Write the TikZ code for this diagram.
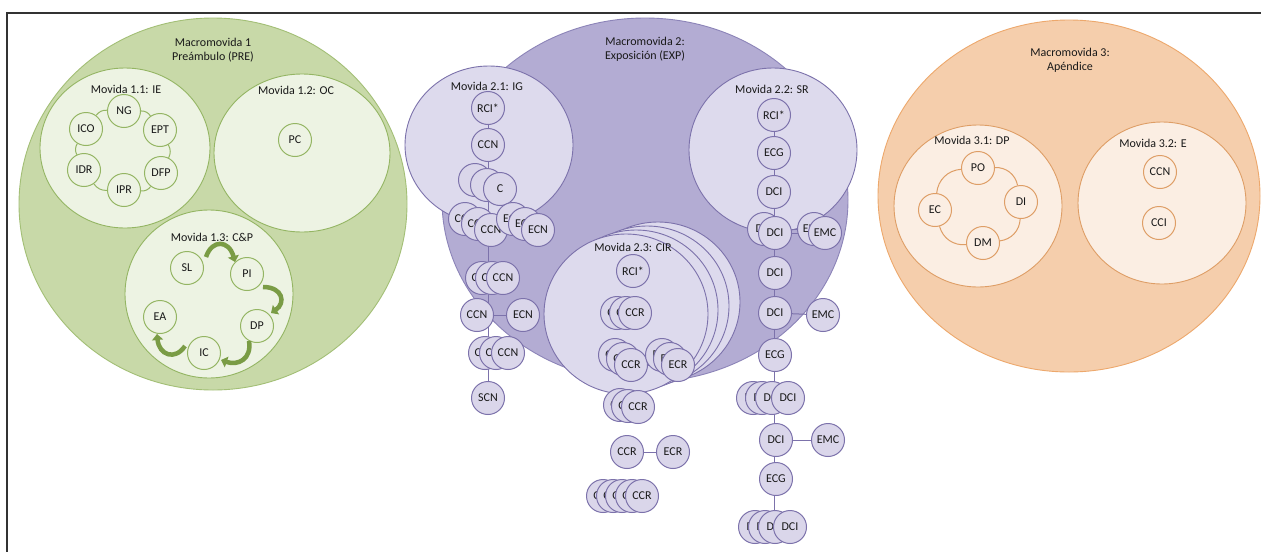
\documentclass[tikz,border=0pt]{standalone}
\usepackage{fontspec}
\setmainfont{Carlito}
\usetikzlibrary{arrows.meta}
\pgfdeclarelayer{bg}
\pgfdeclarelayer{lines}
\pgfsetlayers{bg,lines,main}
\definecolor{gOut}{HTML}{C8D9A8}
\definecolor{gOutB}{HTML}{A3BF76}
\definecolor{gIn}{HTML}{EDF3E3}
\definecolor{gInB}{HTML}{94B563}
\definecolor{gArr}{HTML}{7A9C45}
\definecolor{pOut}{HTML}{B3ACD3}
\definecolor{pOutB}{HTML}{8C84B8}
\definecolor{pIn}{HTML}{DDDAED}
\definecolor{pInB}{HTML}{7C72AB}
\definecolor{pNF}{HTML}{DAD6EA}
\definecolor{oOut}{HTML}{F5CEAC}
\definecolor{oOutB}{HTML}{EDA86C}
\definecolor{oIn}{HTML}{FBEEE3}
\definecolor{oInB}{HTML}{DE9E66}
\begin{document}
\begin{tikzpicture}[x=1pt,y=-1pt,
  every node/.style={font=\fontsize{12}{14}\selectfont, text=black!90},
  lbl/.style={align=center, inner sep=0pt},
  gbig/.style={fill=gOut, draw=gOutB, line width=0.9pt},
  gmid/.style={fill=gIn, draw=gInB, line width=0.9pt},
  gnode/.style={circle, fill=gIn, draw=gInB, line width=1pt, minimum size=33pt, inner sep=0pt},
  gline/.style={draw=gInB, line width=1pt},
  garrow/.style={draw=gArr, line width=4.5pt, -{Triangle[length=6pt,width=11pt]}},
  pbig/.style={fill=pOut, draw=pOutB, line width=0.9pt},
  pmid/.style={fill=pIn, draw=pInB, line width=0.9pt},
  pnode/.style={circle, fill=pNF, draw=pInB, line width=1pt, minimum size=33pt, inner sep=0pt},
  pline/.style={draw=pInB, line width=1pt},
  obig/.style={fill=oOut, draw=oOutB, line width=0.9pt},
  omid/.style={fill=oIn, draw=oInB, line width=0.9pt},
  onode/.style={circle, fill=oIn, draw=oInB, line width=1pt, minimum size=33pt, inner sep=0pt},
  oline/.style={draw=oInB, line width=1pt}
]
\useasboundingbox (0,0) rectangle (1261,552);

% ---------- background shapes ----------
\begin{pgfonlayer}{bg}
  \fill[white] (0,0) rectangle (1261,552);
  % green
  \draw[gbig] (213,204) ellipse [x radius=194pt, y radius=186pt];
  \draw[gmid] (125,148) ellipse [x radius=85pt, y radius=80pt];
  \draw[gmid] (302,153) ellipse [x radius=88pt, y radius=79pt];
  \draw[gmid] (209,294) ellipse [x radius=84pt, y radius=84pt];
  % purple
  \draw[pbig] (645,200) ellipse [x radius=203pt, y radius=182pt];
  \draw[pmid] (489,145) ellipse [x radius=84pt, y radius=79pt];
  \draw[pmid] (773,150) ellipse [x radius=84pt, y radius=82pt];
  \draw[pmid] (658,302) ellipse [x radius=82pt, y radius=80pt];
  \draw[pmid] (647,306) ellipse [x radius=82pt, y radius=80pt];
  \draw[pmid] (636,310) ellipse [x radius=82pt, y radius=80pt];
  \draw[pmid] (626,314) ellipse [x radius=82pt, y radius=80pt];
  % orange
  \draw[obig] (1069,196) ellipse [x radius=191pt, y radius=176pt];
  \draw[omid] (978,206) ellipse [x radius=84pt, y radius=81pt];
  \draw[omid] (1162,203) ellipse [x radius=84pt, y radius=81pt];
\end{pgfonlayer}

% frame
\draw[line width=2pt, draw=black!80] (1261,13) -- (7,13) -- (7,552);

% ---------- labels ----------
\node[lbl] (t1) at (213,50) {Macromovida 1\\Preámbulo (PRE)};
\node[lbl] (t11) at (126,89) {Movida 1.1: IE};
\node[lbl] (t12) at (296,90) {Movida 1.2: OC};
\node[lbl] (t13) at (212,237) {Movida 1.3: C\&P};
\node[lbl] (t2) at (645,49) {Macromovida 2:\\Exposición (EXP)};
\node[lbl] (t21) at (487,86) {Movida 2.1: IG};
\node[lbl] (t22) at (772,89) {Movida 2.2: SR};
\node[lbl] (t23) at (633,247) {Movida 2.3: CIR};
\node[lbl] (t3) at (1070,60) {Macromovida 3:\\Apéndice};
\node[lbl] (t31) at (972,140) {Movida 3.1: DP};
\node[lbl] (t32) at (1153,143) {Movida 3.2: E};

% ---------- Movida 1.1 ----------
\node[gnode] (NG) at (124,111) {NG};
\node[gnode] (EPT) at (160,130) {EPT};
\node[gnode] (DFP) at (161,173) {DFP};
\node[gnode] (IPR) at (124,190) {IPR};
\node[gnode] (IDR) at (84,170) {IDR};
\node[gnode] (ICO) at (86,129) {ICO};
\begin{pgfonlayer}{lines}
  \draw[gline] (NG) to[bend left=28] (EPT);
  \draw[gline] (EPT) to[bend left=28] (DFP);
  \draw[gline] (DFP) to[bend left=28] (IPR);
  \draw[gline] (IPR) to[bend left=28] (IDR);
  \draw[gline] (IDR) to[bend left=28] (ICO);
  \draw[gline] (ICO) to[bend left=28] (NG);
\end{pgfonlayer}

% ---------- Movida 1.2 ----------
\node[gnode] (PC) at (295,140) {PC};

% ---------- Movida 1.3 ----------
\node[gnode] (SL) at (187,268) {SL};
\node[gnode] (PI) at (247,274) {PI};
\node[gnode] (DP) at (257,326) {DP};
\node[gnode] (IC) at (204,353) {IC};
\node[gnode] (EA) at (160,317) {EA};
\coordinate (a1s) at (206,257); \coordinate (a1e) at (235,262);
\coordinate (a2s) at (263,287); \coordinate (a2e) at (271,313);
\coordinate (a3s) at (249,341); \coordinate (a3e) at (221,360);
\coordinate (a4s) at (185,346); \coordinate (a4e) at (157,334);
\draw[garrow] (a1s) .. controls (212,239) and (229,240) .. (a1e);
\draw[garrow] (a2s) .. controls (283,287) and (286,303) .. (a2e);
\draw[garrow] (a3s) .. controls (252,359) and (238,366) .. (a3e);
\draw[garrow] (a4s) .. controls (175,361) and (159,355) .. (a4e);

% ---------- Movida 2.1 ----------
\node[pnode] (R21) at (488,108) {RCI*};
\node[pnode] (C21) at (488,145) {CCN};
\node[pnode] (Ca) at (475,180) {C};
\node[pnode] (Cb) at (487,185) {C};
\node[pnode] (Cc) at (500,189) {C};
\node[pnode] (Da) at (465,219) {CCN};
\node[pnode] (Db) at (478,224) {CCN};
\node[pnode] (Dc) at (491,230) {CCN};
\node[pnode] (Ea) at (513,219) {ECN};
\node[pnode] (Eb) at (525,224) {ECN};
\node[pnode] (Ec) at (538,230) {ECN};
\node[pnode] (Fa) at (482,278) {CCN};
\node[pnode] (Fb) at (492,278) {CCN};
\node[pnode] (Fc) at (503,278) {CCN};
\node[pnode] (G1) at (477,315) {CCN};
\node[pnode] (G2) at (523,315) {ECN};
\node[pnode] (Ha) at (485,353) {CCN};
\node[pnode] (Hb) at (496,353) {CCN};
\node[pnode] (Hc) at (508,353) {CCN};
\node[pnode] (S21) at (488,398) {SCN};
\begin{pgfonlayer}{lines}
  \draw[pline] (R21) -- (S21);
  \draw[pline] (Db) -- (Eb);
  \draw[pline] (Dc) -- (Ec);
  \draw[pline] (G1) -- (G2);
\end{pgfonlayer}

% ---------- Movida 2.2 ----------
\node[pnode] (R22) at (774,115) {RCI*};
\node[pnode] (E22) at (774,153) {ECG};
\node[pnode] (D22) at (774,192) {DCI};
\node[pnode] (Ja) at (764,229) {DCI};
\node[pnode] (Jb) at (775,233) {DCI};
\node[pnode] (Ka) at (814,229) {EMC};
\node[pnode] (Kb) at (825,233) {EMC};
\node[pnode] (L22) at (775,273) {DCI};
\node[pnode] (M22) at (775,313) {DCI};
\node[pnode] (N22) at (823,315) {EMC};
\node[pnode] (O22) at (775,355) {ECG};
\node[pnode] (Pa) at (753,398) {DCI};
\node[pnode] (Pb) at (762,398) {DCI};
\node[pnode] (Pc) at (772,398) {DCI};
\node[pnode] (Pd) at (788,398) {DCI};
\node[pnode] (Q22) at (776,440) {DCI};
\node[pnode] (Q22e) at (828,440) {EMC};
\node[pnode] (T22) at (776,479) {ECG};
\node[pnode] (Ua) at (755,527) {DCI};
\node[pnode] (Ub) at (765,527) {DCI};
\node[pnode] (Uc) at (775,527) {DCI};
\node[pnode] (Ud) at (790,527) {DCI};
\begin{pgfonlayer}{lines}
  \draw[pline] (R22) -- (R22 |- Uc);
  \draw[pline] (Ja) -- (Ka);
  \draw[pline] (Jb) -- (Kb);
  \draw[pline] (M22) -- (N22);
  \draw[pline] (Q22) -- (Q22e);
\end{pgfonlayer}

% ---------- Movida 2.3 ----------
\node[pnode] (R23) at (633,271) {RCI*};
\node[pnode] (Va) at (617,313) {CCR};
\node[pnode] (Vb) at (626,313) {CCR};
\node[pnode] (Vc) at (635,313) {CCR};
\node[pnode] (Wa) at (615,355) {CCR};
\node[pnode] (Wb) at (623,359) {CCR};
\node[pnode] (Wc) at (631,365) {CCR};
\node[pnode] (Xa) at (662,355) {ECR};
\node[pnode] (Xb) at (670,359) {ECR};
\node[pnode] (Xc) at (678,365) {ECR};
\node[pnode] (Ya) at (620,405) {CCR};
\node[pnode] (Yb) at (628,406) {CCR};
\node[pnode] (Yc) at (638,407) {CCR};
\node[pnode] (Z1) at (627,452) {CCR};
\node[pnode] (Z2) at (673,452) {ECR};
\node[pnode] (Za) at (603,496) {CCR};
\node[pnode] (Zb) at (613,496) {CCR};
\node[pnode] (Zc) at (622,496) {CCR};
\node[pnode] (Zd) at (632,496) {CCR};
\node[pnode] (Ze) at (642,496) {CCR};
\begin{pgfonlayer}{lines}
  \draw[pline] (Wb) -- (Xb);
  \draw[pline] (Wc) -- (Xc);
  \draw[pline] (Z1) -- (Z2);
\end{pgfonlayer}

% ---------- Movida 3.1 ----------
\node[onode] (PO) at (978,168) {PO};
\node[onode] (DI) at (1021,202) {DI};
\node[onode] (DM) at (983,243) {DM};
\node[onode] (EC) at (935,210) {EC};
\begin{pgfonlayer}{lines}
  \draw[oline] (PO) to[bend left=40] (DI);
  \draw[oline] (DI) to[bend left=40] (DM);
  \draw[oline] (DM) to[bend left=40] (EC);
  \draw[oline] (EC) to[bend left=40] (PO);
\end{pgfonlayer}

% ---------- Movida 3.2 ----------
\node[onode] (CCN3) at (1160,172) {CCN};
\node[onode] (CCI3) at (1159,223) {CCI};

\end{tikzpicture}
\end{document}
